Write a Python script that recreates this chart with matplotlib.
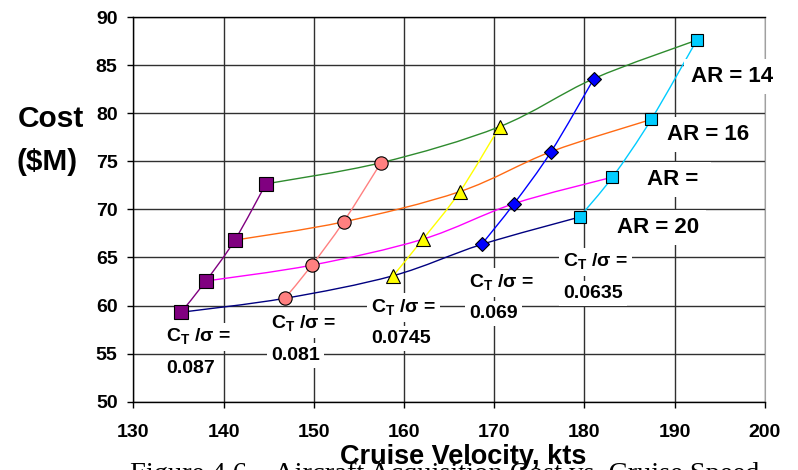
import matplotlib.pyplot as plt
import numpy as np
from matplotlib.path import Path
from matplotlib.patches import PathPatch

plt.rcParams['font.family'] = ['Liberation Sans', 'DejaVu Sans']
plt.rcParams['font.weight'] = 'bold'
plt.rcParams['mathtext.fontset'] = 'custom'
plt.rcParams['mathtext.rm'] = 'Liberation Sans'
plt.rcParams['mathtext.bf'] = 'Liberation Sans:bold'

# Data: one series per CT/sigma value, points ordered AR = 20, 18, 16, 14
ct_labels = ['0.087', '0.081', '0.0745', '0.069', '0.0635']
vel_087 = [135.3, 138.05, 141.25, 144.7]
cost_087 = [59.3, 62.55, 66.8, 72.65]
vel_081 = [146.8, 149.8, 153.3, 157.45]
cost_081 = [60.75, 64.2, 68.7, 74.85]
vel_0745 = [158.8, 162.1, 166.2, 170.6]
cost_0745 = [63.1, 66.9, 71.85, 78.6]
vel_069 = [168.6, 172.2, 176.3, 181.05]
cost_069 = [66.35, 70.6, 76.0, 83.6]
vel_0635 = [179.45, 183.1, 187.4, 192.45]
cost_0635 = [69.2, 73.35, 79.35, 87.6]
ar_labels = ['AR = 20', 'AR = ', 'AR = 16', 'AR = 14']

vels = [vel_087, vel_081, vel_0745, vel_069, vel_0635]
costs = [cost_087, cost_081, cost_0745, cost_069, cost_0635]

# estilos
ct_colors = ['#800080', '#FF8080', '#FFFF00', '#0000FF', '#00CCFF']
ct_markers = ['s', 'o', '^', 'D', 's']
ct_msizes = [9.4, 9.6, 10.5, 7.2, 9.2]
ar_colors = ['#000080', '#FF00FF', '#FF6A13', '#2E8B2E']

# label positions (left, baseline of first line)
ct_pos = [(133.65, 56.2), (145.3, 57.55), (156.35, 59.3), (167.2, 61.9), (177.6, 64.0)]
ar_pos = [(183.6, 67.55), (186.9, 72.55), (189.1, 77.2), (191.8, 83.25)]


def curva_suave(ax, xs, ys, color, lw=1.0, z=2):
    """Excel-style smoothed line (Bezier through the points)."""
    pts = np.column_stack([xs, ys])
    n = len(pts)
    verts = [pts[0]]
    codes = [Path.MOVETO]
    for i in range(n - 1):
        p0 = pts[i - 1] if i > 0 else pts[i]
        p3 = pts[i + 2] if i + 2 < n else pts[i + 1]
        c1 = pts[i] + (pts[i + 1] - p0) / 6
        c2 = pts[i + 1] - (p3 - pts[i]) / 6
        verts += [c1, c2, pts[i + 1]]
        codes += [Path.CURVE4] * 3
    ax.add_patch(PathPatch(Path(verts, codes), facecolor='none',
                           edgecolor=color, lw=lw, zorder=z))


fig = plt.figure(figsize=(7.98, 4.70), dpi=100)
ax = fig.add_axes([0.167, 0.1453, 0.7916, 0.8185])

# constant AR lines
for j, col in enumerate(ar_colors):
    xs = [v[j] for v in vels]
    ys = [c[j] for c in costs]
    curva_suave(ax, xs, ys, col, lw=1.0, z=2)

# constant CT/sigma lines with markers
for xs, ys, col, mk, ms in zip(vels, costs, ct_colors, ct_markers, ct_msizes):
    curva_suave(ax, xs, ys, col, lw=1.0, z=3)
    ax.plot(xs, ys, ls='none', marker=mk, ms=ms, mfc=col, mec='black',
            mew=0.8, zorder=4)

ax.set_xlim(130, 200)
ax.set_ylim(50, 90)
ax.set_xticks(np.arange(130, 201, 10))
ax.set_yticks(np.arange(50, 91, 5))
ax.grid(True, color='#303030', linewidth=1.0, zorder=0)
ax.set_axisbelow(True)
ax.tick_params(axis='x', direction='out', length=4.3, width=1, labelsize=14, pad=11.5)
ax.tick_params(axis='y', direction='out', length=4.3, width=1, labelsize=14, pad=7)
for s in ['left', 'bottom', 'top']:
    ax.spines[s].set_color('black')
    ax.spines[s].set_linewidth(1.0)
ax.spines['right'].set_color('#a0a0a0')

caja = dict(facecolor='white', edgecolor='none', pad=3)
gap = 3.2
for (x, y), lab in zip(ct_pos, ct_labels):
    ax.text(x, y, r'C$_{\mathbf{T}}$ /σ =', fontsize=14, ha='left', va='baseline',
            bbox=caja, zorder=5)
    ax.text(x, y - gap, lab, fontsize=14, ha='left', va='baseline',
            bbox=caja, zorder=5)

for (x, y), lab in zip(ar_pos, ar_labels):
    ax.text(x, y, lab, fontsize=16, ha='left', va='baseline',
            bbox=dict(facecolor='white', edgecolor='none', pad=5), zorder=5,
            clip_on=False)

fig.text(0.0633, 1 - 127 / 470, 'Cost', fontsize=21.5, ha='center', va='baseline')
fig.text(0.0595, 1 - 170 / 470, '($M)', fontsize=21.5, ha='center', va='baseline')
fig.text(130 / 798, 1 - 462 / 470, 'Figure 4.6 \u2013 Aircraft Acquisition Cost vs. Cruise Speed',
         family='Liberation Serif', fontweight='normal', fontsize=20.5, ha='left', va='top',
         zorder=1)
fig.text(0.580, 1 - 464 / 470, 'Cruise Velocity, kts', fontsize=19.5, ha='center',
         va='baseline', zorder=3)

fig.savefig('out.png', dpi=100)
